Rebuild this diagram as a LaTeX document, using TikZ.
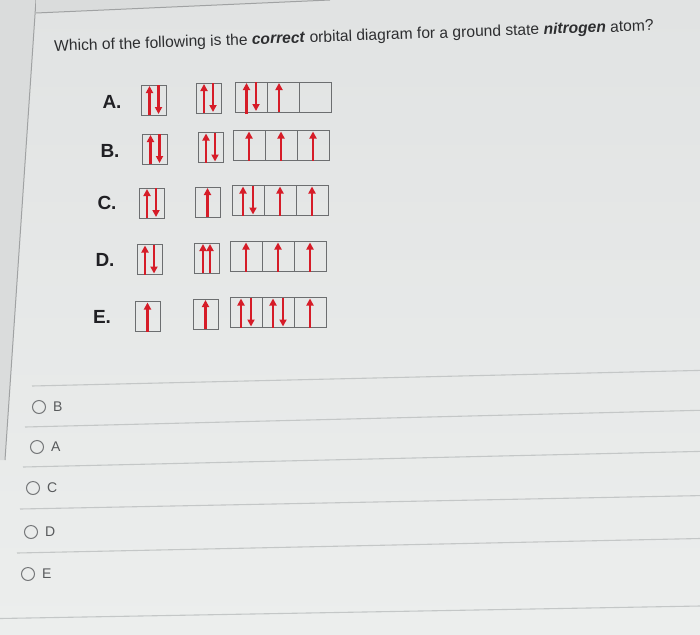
\documentclass[tikz,border=0pt]{standalone}
\usepackage{fontspec}
\setmainfont{Liberation Sans}
\usetikzlibrary{arrows.meta,positioning,calc}

\definecolor{bgtop}{RGB}{225,227,227}
\definecolor{bgbot}{RGB}{236,238,237}
\definecolor{edgegray}{RGB}{160,162,163}
\definecolor{boxgray}{RGB}{108,110,112}
\definecolor{spinred}{RGB}{214,28,40}
\definecolor{labelblack}{RGB}{32,32,36}
\definecolor{questgray}{RGB}{45,46,48}
\definecolor{optgray}{RGB}{88,90,92}
\definecolor{radiogray}{RGB}{118,120,122}
\definecolor{sepgray}{RGB}{196,199,199}

\begin{document}
\begin{tikzpicture}[x=1pt, y=-1pt,
    orb/.style={rectangle, draw=boxgray, line width=0.9pt, inner sep=0pt, outer sep=0pt, minimum height=30pt},
    sorb/.style={orb, minimum width=25pt},
    porb/.style={orb, minimum width=32pt},
    spin/.style={draw=spinred, line width=2.5pt, -{Triangle[width=7pt,length=7pt]}},
    rowlbl/.style={font=\fontsize{19}{22}\selectfont\bfseries, text=labelblack},
    radio/.style={circle, draw=radiogray, line width=1pt, minimum size=13pt, inner sep=0pt},
    optlbl/.style={font=\fontsize{14}{16}\selectfont, text=optgray, inner sep=0pt},
    sep/.style={draw=sepgray, line width=1.1pt}]

    \useasboundingbox (0,0) rectangle (700,634);
    \shade[top color=bgtop, bottom color=bgbot] (0,0) rectangle (700,634);
    % page edge
    \fill[bgtop!97!black] (0,0) -- (36,0) -- (5,460) -- (0,460) -- cycle;
    \draw[edgegray, line width=1pt] (36,0) -- (5,460);
    \fill[bgtop!97!black] (36,0) -- (36,13) -- (330,0) -- cycle;
    \draw[edgegray, line width=1pt] (36,13) -- (330,0);

    % question
    \node[font=\fontsize{15.6}{18}\selectfont, text=questgray, rotate=2] (question) at (354,37)
        {Which of the following is the \textbf{\textit{correct}} orbital diagram for a ground state \textbf{\textit{nitrogen}} atom?};

    % A
    \begin{scope}[every node/.append style={minimum height=28pt}]
    \node[rowlbl] (lbl_a) at (112,102) {A.};
    \node[sorb] (a_1s) at (154,100) {};
    \node[sorb] (a_2s) at (208.5,98) {};
    \node[porb] (a_2p1) at (251,97) {};
    \node[porb, right=0pt of a_2p1] (a_2p2) {};
    \node[porb, right=0pt of a_2p2] (a_2p3) {};
    \end{scope}
    \draw[spin] ($(a_1s.south)+(-4.5,0)$) -- ($(a_1s.north)+(-4.5,1)$);
    \draw[spin] ($(a_1s.north)+(4.5,0)$) -- ($(a_1s.south)+(4.5,-1)$);
    \draw[spin] ($(a_2s.south)+(-4.5,0)$) -- ($(a_2s.north)+(-4.5,1)$);
    \draw[spin] ($(a_2s.north)+(4.5,0)$) -- ($(a_2s.south)+(4.5,-1)$);
    \draw[spin] ($(a_2p1.south)+(-4.5,2)$) -- ($(a_2p1.north)+(-4.5,1)$);
    \draw[spin] ($(a_2p1.north)+(5,0)$) -- ($(a_2p1.south)+(5,-1)$);
    \draw[spin] ($(a_2p2.south)+(-4,0)$) -- ($(a_2p2.north)+(-4,1)$);

    % B
    \begin{scope}[every node/.append style={minimum height=29pt}]
    \node[rowlbl] (lbl_b) at (110,151) {B.};
    \node[sorb] (b_1s) at (155,149) {};
    \node[sorb] (b_2s) at (210.5,147.5) {};
    \node[porb] (b_2p1) at (249,145.5) {};
    \node[porb, right=0pt of b_2p1] (b_2p2) {};
    \node[porb, right=0pt of b_2p2] (b_2p3) {};
    \end{scope}
    \draw[spin] ($(b_1s.south)+(-4.5,0)$) -- ($(b_1s.north)+(-4.5,1)$);
    \draw[spin] ($(b_1s.north)+(4.5,0)$) -- ($(b_1s.south)+(4.5,-1)$);
    \draw[spin] ($(b_2s.south)+(-4.5,0)$) -- ($(b_2s.north)+(-4.5,1)$);
    \draw[spin] ($(b_2s.north)+(4.5,0)$) -- ($(b_2s.south)+(4.5,-1)$);
    \draw[spin] (b_2p1.south) -- ($(b_2p1.north)+(0,1)$);
    \draw[spin] (b_2p2.south) -- ($(b_2p2.north)+(0,1)$);
    \draw[spin] (b_2p3.south) -- ($(b_2p3.north)+(0,1)$);

    % C
    \begin{scope}[every node/.append style={minimum height=30pt}]
    \node[rowlbl] (lbl_c) at (107,203) {C.};
    \node[sorb] (c_1s) at (151.5,203) {};
    \node[sorb] (c_2s) at (207.5,202) {};
    \node[porb] (c_2p1) at (248,200.5) {};
    \node[porb, right=0pt of c_2p1] (c_2p2) {};
    \node[porb, right=0pt of c_2p2] (c_2p3) {};
    \end{scope}
    \draw[spin] ($(c_1s.south)+(-4.5,0)$) -- ($(c_1s.north)+(-4.5,1)$);
    \draw[spin] ($(c_1s.north)+(4.5,0)$) -- ($(c_1s.south)+(4.5,-1)$);
    \draw[spin] (c_2s.south) -- ($(c_2s.north)+(0,1)$);
    \draw[spin] ($(c_2p1.south)+(-5,0)$) -- ($(c_2p1.north)+(-5,1)$);
    \draw[spin] ($(c_2p1.north)+(5,0)$) -- ($(c_2p1.south)+(5,-1)$);
    \draw[spin] (c_2p2.south) -- ($(c_2p2.north)+(0,1)$);
    \draw[spin] (c_2p3.south) -- ($(c_2p3.north)+(0,1)$);

    % D
    \begin{scope}[every node/.append style={minimum height=32pt}]
    \node[rowlbl] (lbl_d) at (105,260) {D.};
    \node[sorb] (d_1s) at (149.5,259.5) {};
    \node[sorb] (d_2s) at (206.5,258) {};
    \node[porb] (d_2p1) at (246,256.5) {};
    \node[porb, right=0pt of d_2p1] (d_2p2) {};
    \node[porb, right=0pt of d_2p2] (d_2p3) {};
    \end{scope}
    \draw[spin] ($(d_1s.south)+(-4.5,0)$) -- ($(d_1s.north)+(-4.5,1)$);
    \draw[spin] ($(d_1s.north)+(4.5,0)$) -- ($(d_1s.south)+(4.5,-1)$);
    \draw[spin] ($(d_2s.south)+(-3.5,0)$) -- ($(d_2s.north)+(-3.5,1)$);
    \draw[spin] ($(d_2s.south)+(3.5,0)$) -- ($(d_2s.north)+(3.5,1)$);
    \draw[spin] (d_2p1.south) -- ($(d_2p1.north)+(0,1)$);
    \draw[spin] (d_2p2.south) -- ($(d_2p2.north)+(0,1)$);
    \draw[spin] (d_2p3.south) -- ($(d_2p3.north)+(0,1)$);

    % E
    \begin{scope}[every node/.append style={minimum height=33pt}]
    \node[rowlbl] (lbl_e) at (102,317) {E.};
    \node[sorb] (e_1s) at (147.5,316.5) {};
    \node[sorb] (e_2s) at (205.5,314) {};
    \node[porb] (e_2p1) at (246,312.5) {};
    \node[porb, right=0pt of e_2p1] (e_2p2) {};
    \node[porb, right=0pt of e_2p2] (e_2p3) {};
    \end{scope}
    \draw[spin] (e_1s.south) -- ($(e_1s.north)+(0,1)$);
    \draw[spin] (e_2s.south) -- ($(e_2s.north)+(0,1)$);
    \draw[spin] ($(e_2p1.south)+(-5,0)$) -- ($(e_2p1.north)+(-5,1)$);
    \draw[spin] ($(e_2p1.north)+(5,0)$) -- ($(e_2p1.south)+(5,-1)$);
    \draw[spin] ($(e_2p2.south)+(-5,0)$) -- ($(e_2p2.north)+(-5,1)$);
    \draw[spin] ($(e_2p2.north)+(5,0)$) -- ($(e_2p2.south)+(5,-1)$);
    \draw[spin] (e_2p3.south) -- ($(e_2p3.north)+(0,1)$);

    % answer list
    \draw[sep] (32,386) -- (700,370.4);
    \draw[sep] (25,427) -- (700,410.3);
    \draw[sep] (23,467) -- (700,451.4);
    \draw[sep] (20,509) -- (700,495.6);
    \draw[sep] (17,553) -- (700,538.5);
    \draw[sep] (0,618.5) -- (700,606);

    \node[radio] (opt_b) at (39,407) {};
    \node[optlbl, right=7pt of opt_b] (txt_b) {B};
    \node[radio] (opt_a) at (37,447) {};
    \node[optlbl, right=7pt of opt_a] (txt_a) {A};
    \node[radio] (opt_c) at (33,488) {};
    \node[optlbl, right=7pt of opt_c] (txt_c) {C};
    \node[radio] (opt_d) at (31,532) {};
    \node[optlbl, right=7pt of opt_d] (txt_d) {D};
    \node[radio] (opt_e) at (28,574) {};
    \node[optlbl, right=7pt of opt_e] (txt_e) {E};
\end{tikzpicture}
\end{document}
